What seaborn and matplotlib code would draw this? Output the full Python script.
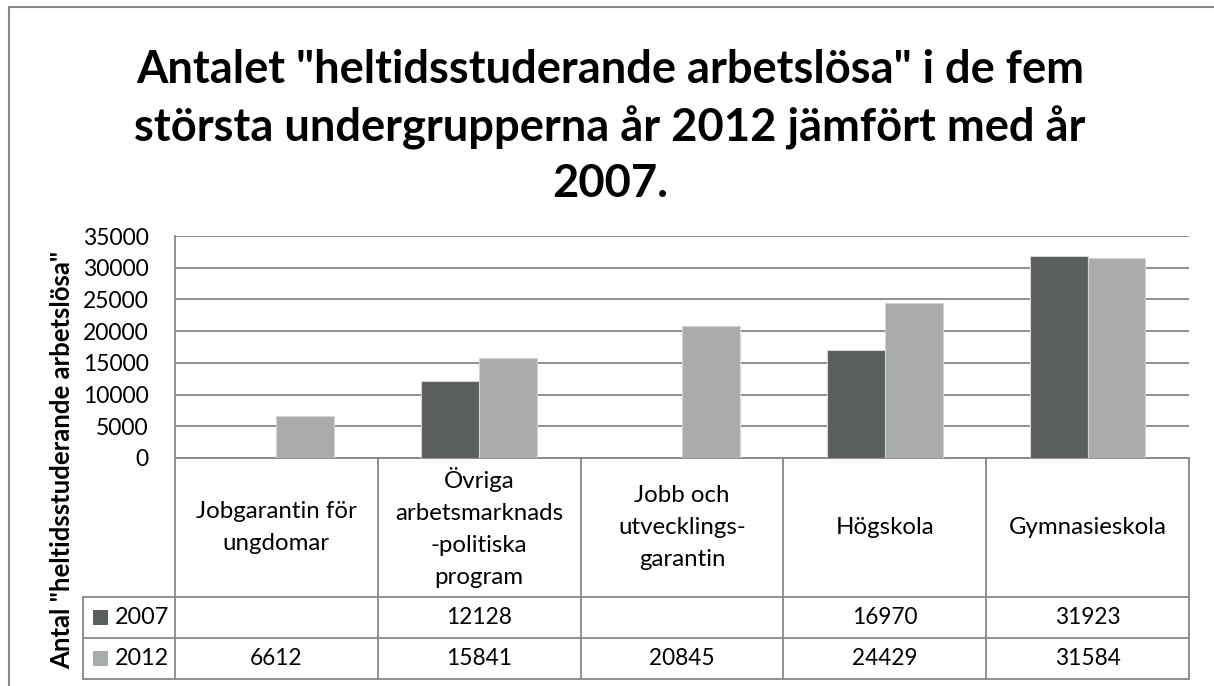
import numpy as np
import pandas as pd
import matplotlib
matplotlib.use("Agg")
import matplotlib.pyplot as plt
from matplotlib.patches import Rectangle
import seaborn as sns


categories = ["Jobgarantin för\nungdomar",
              "Övriga\narbetsmarknads\n-politiska\nprogram",
              "Jobb och\nutvecklings-\ngarantin",
              "Högskola",
              "Gymnasieskola"]
years = ["2007", "2012"]
values_2007 = [np.nan, 12128, np.nan, 16970, 31923]
values_2012 = [6612, 15841, 20845, 24429, 31584]
y_ticks = [0, 5000, 10000, 15000, 20000, 25000, 30000, 35000]

title = ('Antalet "heltidsstuderande arbetslösa" i de fem\n'
         'största undergrupperna år 2012 jämfört med år\n'
         '2007.')
y_label = 'Antal "heltidsstuderande arbetslösa"'

DARK = "#5a5e5f"
LIGHT = "#a8abac"
GRID = "#878787"

df = pd.DataFrame({
    "kategori": categories * 2,
    "år": [years[0]] * 5 + [years[1]] * 5,
    "antal": values_2007 + values_2012,
})

sns.set_theme(style="white")
plt.rcParams["font.family"] = ["Lato", "DejaVu Sans"]

W, H = 1214, 686
fig = plt.figure(figsize=(W / 100, H / 100), dpi=100)

# plot area in pixels: x 175..1189, y 236..458
ax = fig.add_axes([175 / W, 1 - 458 / H, 1014 / W, 222 / H])
sns.barplot(data=df, x="kategori", y="antal", hue="år", order=categories,
            hue_order=years, palette=[DARK, LIGHT], width=0.57,
            edgecolor="#d4d4d4", linewidth=0.8, legend=False, ax=ax, zorder=3)
ax.set_xlim(-0.5, 4.5)
ax.set_ylim(0, 35000)
ax.set_yticks(y_ticks)
ax.set_yticklabels([str(t) for t in y_ticks], fontsize=16.5, color="black")
ax.tick_params(axis="y", length=0, pad=19)
ax.tick_params(axis="x", length=0, labelbottom=False)
ax.set_xlabel("")
ax.set_ylabel("")
ax.grid(axis="y", color=GRID, linewidth=1.3, zorder=0)
ax.set_axisbelow(True)
for s in ["top", "right"]:
    ax.spines[s].set_visible(False)
for s in ["left", "bottom"]:
    ax.spines[s].set_color(GRID)
    ax.spines[s].set_linewidth(1.3)

# data table below the plot
tax = fig.add_axes([175 / W, 1 - 679 / H, 1014 / W, 221 / H])
tax.set_xlim(-0.5, 4.5)
tax.set_ylim(221, 0)
tax.axis("off")
xl = -0.5 - 92 / 202.8
lw = 1.3
for i in range(6):
    tax.plot([-0.5 + i, -0.5 + i], [0, 221], color=GRID, lw=lw, clip_on=False)
tax.plot([xl, xl], [139, 221], color=GRID, lw=lw, clip_on=False)
for yy in [139, 180, 221]:
    tax.plot([xl, 4.5], [yy, yy], color=GRID, lw=lw, clip_on=False)

for i, cat in enumerate(categories):
    tax.text(i, 69.5, cat, ha="center", va="center", fontsize=17.3,
             linespacing=1.65, color="black")

for row_y, year, vals, col in [(159.5, years[0], values_2007, DARK),
                               (200.5, years[1], values_2012, LIGHT)]:
    tax.add_patch(Rectangle((-0.5 + (93 - 175) / 202.8, row_y - 7.5), 15 / 202.8, 15,
                            facecolor=col, edgecolor="none", clip_on=False))
    tax.text(-0.5 + (115 - 175) / 202.8, row_y, year, ha="left", va="center",
             fontsize=16.8, color="black", clip_on=False)
    for i, v in enumerate(vals):
        if not np.isnan(v):
            tax.text(i, row_y, f"{int(v)}", ha="center", va="center",
                     fontsize=16.3, color="black")

fig.text(610 / W, 1 - 49 / H, title, ha="center", va="top", fontsize=32.6,
         fontweight="bold", linespacing=1.4, color="black")
fig.text(62 / W, 1 - 460 / H, y_label, rotation=90, ha="center", va="center",
         fontsize=18.5, fontweight="bold", color="black")

# outer chart frame (cut off on the right and bottom)
fig.add_artist(Rectangle((9 / W, -0.1), 1.2, 1.1 - 7 / H, transform=fig.transFigure,
                         facecolor="none", edgecolor=GRID, lw=1.5))

fig.savefig("out.png", dpi=100)
